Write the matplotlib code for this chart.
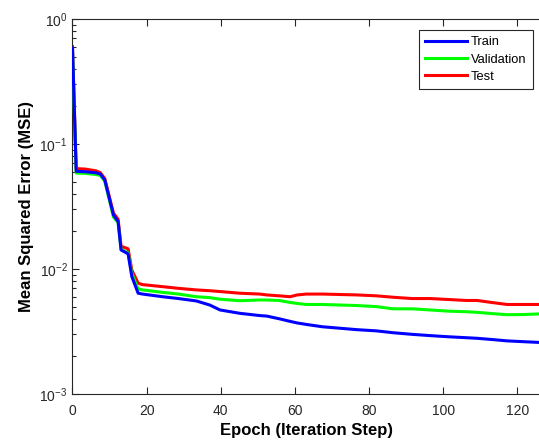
import matplotlib
matplotlib.use("Agg")
import matplotlib.pyplot as plt

plt.rcParams['font.family'] = ['Liberation Sans', 'DejaVu Sans']
plt.rcParams['mathtext.default'] = 'regular'

# Epoques
epochs = [0, 1, 3.4, 6.3, 7.5, 8.7, 11.05, 12.3, 13.1, 15.0, 16.0, 17.7, 18.9, 24.3,
          28.6, 33.4, 37.0, 39.8, 45.1, 50.5, 52.4, 55.7, 58.7, 60.6, 63.1, 67.4, 76.7,
          81.9, 86.5, 91.6, 96.5, 101.3, 106.2, 109.1, 113, 117.2, 121.7, 126.5]

mse_train = [0.58, 0.0605, 0.0600, 0.0588, 0.0575, 0.0515, 0.027, 0.024, 0.0142, 0.0132,
             0.0087, 0.0064, 0.0063, 0.0060, 0.0058, 0.00555, 0.00515, 0.0047, 0.00442,
             0.00424, 0.0042, 0.0040, 0.00381, 0.0037, 0.0036, 0.00345, 0.00327, 0.0032,
             0.00309, 0.00300, 0.00293, 0.00287, 0.00282, 0.00279, 0.00273, 0.00266,
             0.00262, 0.00258]

mse_validation = [0.57, 0.0585, 0.0582, 0.0570, 0.0560, 0.0505, 0.026, 0.0235, 0.0143,
                  0.0135, 0.0092, 0.0069, 0.0068, 0.0065, 0.0063, 0.0060, 0.0059, 0.00573,
                  0.00557, 0.00565, 0.00565, 0.0056, 0.0054, 0.0053, 0.0052, 0.0052,
                  0.0051, 0.0050, 0.0048, 0.0048, 0.0047, 0.0046, 0.00455, 0.0045,
                  0.0044, 0.00431, 0.00432, 0.00438]

mse_test = [0.60, 0.0635, 0.063, 0.061, 0.059, 0.053, 0.028, 0.025, 0.0152, 0.0145,
            0.0098, 0.0077, 0.0075, 0.00722, 0.0070, 0.0068, 0.0067, 0.0066, 0.0064,
            0.0063, 0.0062, 0.0061, 0.0060, 0.0062, 0.0063, 0.0063, 0.0062, 0.0061,
            0.00594, 0.0058, 0.0058, 0.0057, 0.0056, 0.0056, 0.0054, 0.0052, 0.0052,
            0.0052]

x_ticks = [0, 20, 40, 60, 80, 100, 120]

fig = plt.figure(figsize=(5.39, 4.41), dpi=100)
# le bord droit de l'axe tombe juste au bord de l'image
ax = fig.add_axes([0.1345, 0.1066, 0.8674, 0.8504])

l_test, = ax.plot(epochs, mse_test, color=(1, 0, 0), lw=2.2, zorder=2)
l_val, = ax.plot(epochs, mse_validation, color=(0, 1, 0), lw=2.2, zorder=3)
l_train, = ax.plot(epochs, mse_train, color=(0, 0, 1), lw=2.2, zorder=4)

ax.set_yscale('log')
ax.set_xlim(0, 126.1)
ax.set_ylim(1e-3, 1)
ax.set_xticks(x_ticks)
ax.tick_params(which='both', direction='in', top=True, right=False, labelsize=10,
               colors='#262626', width=0.8)
ax.tick_params(which='major', length=5)
ax.tick_params(which='minor', length=3)
ax.tick_params(axis='x', pad=7)
for s in ax.spines.values():
    s.set_color('#262626')
    s.set_linewidth(0.8)
ax.spines['right'].set_visible(False)

ax.set_xlabel('Epoch (Iteration Step)', fontsize=12, fontweight='bold')
ax.set_ylabel('Mean Squared Error (MSE)', fontsize=12, fontweight='bold')

leg = fig.legend([l_train, l_val, l_test], ['Train', 'Validation', 'Test'],
                 loc='upper right', bbox_to_anchor=(0.988, 0.933), fontsize=9.3,
                 fancybox=False, framealpha=1, edgecolor='#262626',
                 handlelength=3.2, borderpad=0.5, labelspacing=0.42, handletextpad=0.3,
                 borderaxespad=0)
leg.get_frame().set_linewidth(0.8)

fig.savefig('out.png', dpi=100)
